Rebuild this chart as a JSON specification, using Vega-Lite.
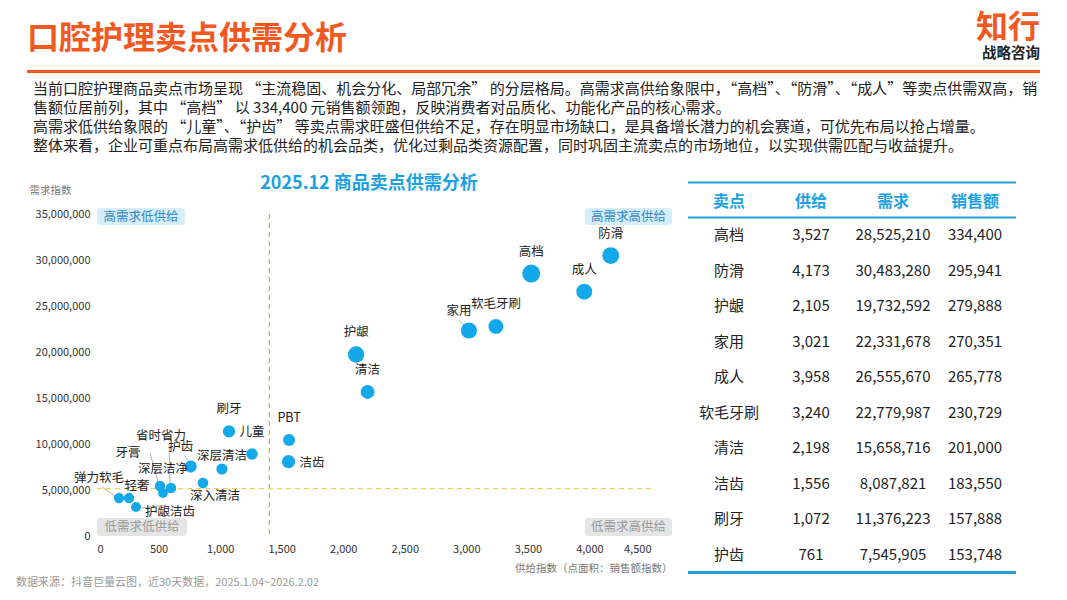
{
  "$schema": "https://vega.github.io/schema/vega-lite/v6.json",
  "background": "white",
  "padding": {"left": 16, "top": 12, "right": 0, "bottom": 0},
  "config": {"font": "Noto Sans CJK SC", "view": {"stroke": null}},
  "datasets": {
    "pts": [
      {"name": "高档", "supply": 3527, "demand": 28525210, "sales": 334400},
      {"name": "防滑", "supply": 4173, "demand": 30483280, "sales": 295941},
      {"name": "护龈", "supply": 2105, "demand": 19732592, "sales": 279888},
      {"name": "家用", "supply": 3021, "demand": 22331678, "sales": 270351},
      {"name": "成人", "supply": 3958, "demand": 26555670, "sales": 265778},
      {"name": "软毛牙刷", "supply": 3240, "demand": 22779987, "sales": 230729},
      {"name": "清洁", "supply": 2198, "demand": 15658716, "sales": 201000},
      {"name": "洁齿", "supply": 1556, "demand": 8087821, "sales": 183550},
      {"name": "刷牙", "supply": 1072, "demand": 11376223, "sales": 157888},
      {"name": "护齿", "supply": 761, "demand": 7545905, "sales": 153748},
      {"name": "PBT", "supply": 1560, "demand": 10430000, "sales": 150000},
      {"name": "儿童", "supply": 1259, "demand": 8910000, "sales": 140000},
      {"name": "深层清洁", "supply": 1015, "demand": 7280000, "sales": 130000},
      {"name": "深入清洁", "supply": 861, "demand": 5760000, "sales": 120000},
      {"name": "省时省力", "supply": 601, "demand": 5220000, "sales": 115000},
      {"name": "牙膏", "supply": 512, "demand": 5430000, "sales": 115000},
      {"name": "深层洁净", "supply": 536, "demand": 4670000, "sales": 100000},
      {"name": "弹力软毛", "supply": 179, "demand": 4130000, "sales": 110000},
      {"name": "轻奢", "supply": 260, "demand": 4130000, "sales": 110000},
      {"name": "护龈洁齿", "supply": 317, "demand": 3150000, "sales": 105000}
    ]
  },
  "title": {"text": "数据来源：抖音巨量云图，近30天数据，2025.1.04~2026.2.02", "orient": "bottom", "anchor": "start", "fontSize": 11, "fontWeight": "normal", "color": "#999999", "dx": -11, "offset": 1},
  "spacing": 5,
  "vconcat": [
    {
      "spacing": 0,
      "hconcat": [
        {
          "width": 872, "height": 3,
          "view": {"fill": "#F0591F", "stroke": null},
          "title": {"text": "口腔护理卖点供需分析", "anchor": "start", "fontSize": 32, "fontWeight": "bold", "color": "#F0591F", "offset": 10},
          "data": {"values": [{}]},
          "mark": "text",
          "encoding": {"text": {"value": ""}}
        },
        {
          "width": 141, "height": 3,
          "view": {"fill": "#F0591F", "stroke": null},
          "title": {"text": "知行", "subtitle": "战略咨询", "anchor": "end", "fontSize": 32, "fontWeight": "bold", "color": "#F0591F", "subtitleFontSize": 14.5, "subtitleFontWeight": "bold", "subtitleColor": "#222222", "subtitlePadding": 2, "offset": 4},
          "data": {"values": [{}]},
          "mark": "text",
          "encoding": {"text": {"value": ""}}
        }
      ]
    },
    {
      "title": {
        "text": [
          "当前口腔护理商品卖点市场呈现 “主流稳固、机会分化、局部冗余” 的分层格局。高需求高供给象限中，“高档”、“防滑”、“成人”等卖点供需双高，销",
          "售额位居前列，其中 “高档” 以 334,400 元销售额领跑，反映消费者对品质化、功能化产品的核心需求。",
          "高需求低供给象限的 “儿童”、“护齿” 等卖点需求旺盛但供给不足，存在明显市场缺口，是具备增长潜力的机会赛道，可优先布局以抢占增量。",
          "整体来看，企业可重点布局高需求低供给的机会品类，优化过剩品类资源配置，同时巩固主流卖点的市场地位，以实现供需匹配与收益提升。"
        ],
        "anchor": "start", "fontSize": 15, "fontWeight": "normal", "color": "#222222", "lineHeight": 19, "dx": 6, "offset": 21
      },
      "spacing": 0,
      "hconcat": [
        {
          "width": 2, "height": 1,
          "data": {"values": [{}]},
          "mark": "text",
          "encoding": {"text": {"value": ""}}
        },
        {
          "width": 554, "height": 322,
          "title": {"text": "2025.12 商品卖点供需分析", "anchor": "middle", "fontSize": 18, "fontWeight": "bold", "color": "#1BA1E2", "dx": -5, "offset": -8},
          "layer": [
            {"data": {"values": [{}]}, "mark": {"type": "rect", "color": "#D5EEFA", "cornerRadius": 3, "clip": false},
             "encoding": {"x": {"datum": 0, "type": "quantitative"}, "x2": {"datum": 715}, "y": {"datum": 35650000, "type": "quantitative"}, "y2": {"datum": 33800000}}},
            {"data": {"values": [{}]}, "mark": {"type": "rect", "color": "#D5EEFA", "cornerRadius": 3, "clip": false},
             "encoding": {"x": {"datum": 3964, "type": "quantitative"}, "x2": {"datum": 4671}, "y": {"datum": 35650000, "type": "quantitative"}, "y2": {"datum": 33800000}}},
            {"data": {"values": [{}]}, "mark": {"type": "rect", "color": "#E5E5E5", "cornerRadius": 3, "clip": false},
             "encoding": {"x": {"datum": 0, "type": "quantitative"}, "x2": {"datum": 731}, "y": {"datum": 1960000, "type": "quantitative"}, "y2": {"datum": 0}}},
            {"data": {"values": [{}]}, "mark": {"type": "rect", "color": "#E5E5E5", "cornerRadius": 3, "clip": false},
             "encoding": {"x": {"datum": 3964, "type": "quantitative"}, "x2": {"datum": 4671}, "y": {"datum": 1960000, "type": "quantitative"}, "y2": {"datum": 0}}},
            {"data": {"values": [{}]}, "mark": {"type": "text", "color": "#3486C4", "fontSize": 12.5, "baseline": "middle"},
             "encoding": {"x": {"datum": 357, "type": "quantitative"}, "y": {"datum": 34720000, "type": "quantitative"}, "text": {"value": "高需求低供给"}}},
            {"data": {"values": [{}]}, "mark": {"type": "text", "color": "#3486C4", "fontSize": 12.5, "baseline": "middle"},
             "encoding": {"x": {"datum": 4317, "type": "quantitative"}, "y": {"datum": 34720000, "type": "quantitative"}, "text": {"value": "高需求高供给"}}},
            {"data": {"values": [{}]}, "mark": {"type": "text", "color": "#9A9A9A", "fontSize": 12.5, "baseline": "middle"},
             "encoding": {"x": {"datum": 365, "type": "quantitative"}, "y": {"datum": 980000, "type": "quantitative"}, "text": {"value": "低需求低供给"}}},
            {"data": {"values": [{}]}, "mark": {"type": "text", "color": "#9A9A9A", "fontSize": 12.5, "baseline": "middle"},
             "encoding": {"x": {"datum": 4317, "type": "quantitative"}, "y": {"datum": 980000, "type": "quantitative"}, "text": {"value": "低需求高供给"}}},
            {"data": {"values": [{}]}, "mark": {"type": "rule", "color": "#A9C24F", "strokeDash": [5, 4], "strokeWidth": 1.2},
             "encoding": {"x": {"datum": 1400, "type": "quantitative"}}},
            {"data": {"values": [{}]}, "mark": {"type": "rule", "color": "#F2D15A", "strokeDash": [5, 4], "strokeWidth": 1.2},
             "encoding": {"y": {"datum": 5140000, "type": "quantitative"}}},
            {"data": {"name": "pts"}, "transform": [{"filter": {"field": "name", "equal": "家用"}}],
             "mark": {"type": "rule", "color": "#9A9A9A", "strokeWidth": 0.8, "xOffset": -10, "yOffset": -10, "x2Offset": -1, "y2Offset": -2},
             "encoding": {"x": {"field": "supply", "type": "quantitative"}, "y": {"field": "demand", "type": "quantitative"}, "x2": {"field": "supply"}, "y2": {"field": "demand"}}},
            {"data": {"name": "pts"}, "transform": [{"filter": {"field": "name", "equal": "护齿"}}],
             "mark": {"type": "rule", "color": "#9A9A9A", "strokeWidth": 0.8, "xOffset": -6, "yOffset": -11, "x2Offset": -1, "y2Offset": -4},
             "encoding": {"x": {"field": "supply", "type": "quantitative"}, "y": {"field": "demand", "type": "quantitative"}, "x2": {"field": "supply"}, "y2": {"field": "demand"}}},
            {"data": {"name": "pts"}, "transform": [{"filter": {"field": "name", "equal": "省时省力"}}],
             "mark": {"type": "rule", "color": "#9A9A9A", "strokeWidth": 0.8, "xOffset": -2, "yOffset": -44, "x2Offset": -1, "y2Offset": -5},
             "encoding": {"x": {"field": "supply", "type": "quantitative"}, "y": {"field": "demand", "type": "quantitative"}, "x2": {"field": "supply"}, "y2": {"field": "demand"}}},
            {"data": {"name": "pts"}, "transform": [{"filter": {"field": "name", "equal": "牙膏"}}],
             "mark": {"type": "rule", "color": "#9A9A9A", "strokeWidth": 0.8, "xOffset": -10, "yOffset": -33, "x2Offset": -2, "y2Offset": -4},
             "encoding": {"x": {"field": "supply", "type": "quantitative"}, "y": {"field": "demand", "type": "quantitative"}, "x2": {"field": "supply"}, "y2": {"field": "demand"}}},
            {"data": {"name": "pts"}, "transform": [{"filter": {"field": "name", "equal": "弹力软毛"}}],
             "mark": {"type": "rule", "color": "#9A9A9A", "strokeWidth": 0.8, "xOffset": -17, "yOffset": -11, "x2Offset": -4, "y2Offset": -2},
             "encoding": {"x": {"field": "supply", "type": "quantitative"}, "y": {"field": "demand", "type": "quantitative"}, "x2": {"field": "supply"}, "y2": {"field": "demand"}}},
            {"data": {"name": "pts"}, "transform": [{"filter": {"field": "name", "equal": "护龈洁齿"}}],
             "mark": {"type": "rule", "color": "#9A9A9A", "strokeWidth": 0.8, "xOffset": 6, "yOffset": 1, "x2Offset": 31, "y2Offset": -2},
             "encoding": {"x": {"field": "supply", "type": "quantitative"}, "y": {"field": "demand", "type": "quantitative"}, "x2": {"field": "supply"}, "y2": {"field": "demand"}}},
            {
              "data": {"name": "pts"},
              "mark": {"type": "circle", "color": "#13A8EA", "opacity": 1},
              "encoding": {
                "x": {"field": "supply", "type": "quantitative", "scale": {"domain": [0, 4500], "nice": false},
                  "axis": {"tickCount": 9, "format": ",.0f", "grid": false, "domain": false, "ticks": false, "labelFontSize": 11, "labelColor": "#333333", "labelPadding": 7,
                    "title": "供给指数（点面积：销售额指数）", "titleFontSize": 10.5, "titleFontWeight": "normal", "titleColor": "#777777", "titleAnchor": "end", "titleAlign": "right", "titleBaseline": "middle", "titleX": 575, "titleY": 32}},
                "y": {"field": "demand", "type": "quantitative", "scale": {"domain": [0, 35000000], "nice": false},
                  "axis": {"tickCount": 7, "format": ",.0f", "grid": false, "domain": false, "ticks": false, "labelFontSize": 11, "labelColor": "#333333", "labelPadding": 7,
                    "title": "需求指数", "titleAngle": 0, "titleFontSize": 10.5, "titleFontWeight": "normal", "titleColor": "#777777", "titleAlign": "left", "titleBaseline": "middle", "titleX": -68, "titleY": -24}},
                "size": {"field": "sales", "type": "quantitative", "scale": {"domain": [0, 334400], "range": [0, 320]}, "legend": null}
              }
            },
            {"data": {"name": "pts"}, "transform": [{"filter": {"field": "name", "oneOf": ["高档", "防滑", "成人", "软毛牙刷", "护龈", "清洁", "PBT", "刷牙", "儿童"]}}],
             "mark": {"type": "text", "fontSize": 12.5, "color": "#222222", "dy": -22, "baseline": "middle"},
             "encoding": {"x": {"field": "supply", "type": "quantitative"}, "y": {"field": "demand", "type": "quantitative"}, "text": {"field": "name"}}},
            {"data": {"name": "pts"}, "transform": [{"filter": {"field": "name", "oneOf": ["深层洁净"]}}],
             "mark": {"type": "text", "fontSize": 12.5, "color": "#222222", "dy": -24, "baseline": "middle"},
             "encoding": {"x": {"field": "supply", "type": "quantitative"}, "y": {"field": "demand", "type": "quantitative"}, "text": {"field": "name"}}},
            {"data": {"name": "pts"}, "transform": [{"filter": {"field": "name", "oneOf": ["深层清洁"]}}],
             "mark": {"type": "text", "fontSize": 12.5, "color": "#222222", "dy": -13, "baseline": "middle"},
             "encoding": {"x": {"field": "supply", "type": "quantitative"}, "y": {"field": "demand", "type": "quantitative"}, "text": {"field": "name"}}},
            {"data": {"name": "pts"}, "transform": [{"filter": {"field": "name", "oneOf": ["洁齿"]}}],
             "mark": {"type": "text", "fontSize": 12.5, "color": "#222222", "dx": 11, "dy": 1, "align": "left", "baseline": "middle"},
             "encoding": {"x": {"field": "supply", "type": "quantitative"}, "y": {"field": "demand", "type": "quantitative"}, "text": {"field": "name"}}},
            {"data": {"name": "pts"}, "transform": [{"filter": {"field": "name", "oneOf": ["家用"]}}],
             "mark": {"type": "text", "fontSize": 12.5, "color": "#222222", "dx": -10, "dy": -20, "baseline": "middle"},
             "encoding": {"x": {"field": "supply", "type": "quantitative"}, "y": {"field": "demand", "type": "quantitative"}, "text": {"field": "name"}}},
            {"data": {"name": "pts"}, "transform": [{"filter": {"field": "name", "oneOf": ["护齿"]}}],
             "mark": {"type": "text", "fontSize": 12.5, "color": "#222222", "dx": -10, "dy": -20, "baseline": "middle"},
             "encoding": {"x": {"field": "supply", "type": "quantitative"}, "y": {"field": "demand", "type": "quantitative"}, "text": {"field": "name"}}},
            {"data": {"name": "pts"}, "transform": [{"filter": {"field": "name", "oneOf": ["省时省力"]}}],
             "mark": {"type": "text", "fontSize": 12.5, "color": "#222222", "dx": -10, "dy": -52, "baseline": "middle"},
             "encoding": {"x": {"field": "supply", "type": "quantitative"}, "y": {"field": "demand", "type": "quantitative"}, "text": {"field": "name"}}},
            {"data": {"name": "pts"}, "transform": [{"filter": {"field": "name", "oneOf": ["牙膏"]}}],
             "mark": {"type": "text", "fontSize": 12.5, "color": "#222222", "dx": -32, "dy": -33, "baseline": "middle"},
             "encoding": {"x": {"field": "supply", "type": "quantitative"}, "y": {"field": "demand", "type": "quantitative"}, "text": {"field": "name"}}},
            {"data": {"name": "pts"}, "transform": [{"filter": {"field": "name", "oneOf": ["弹力软毛"]}}],
             "mark": {"type": "text", "fontSize": 12.5, "color": "#222222", "dx": -20, "dy": -20, "baseline": "middle"},
             "encoding": {"x": {"field": "supply", "type": "quantitative"}, "y": {"field": "demand", "type": "quantitative"}, "text": {"field": "name"}}},
            {"data": {"name": "pts"}, "transform": [{"filter": {"field": "name", "oneOf": ["护龈洁齿"]}}],
             "mark": {"type": "text", "fontSize": 12.5, "color": "#222222", "dx": 9, "dy": 5, "align": "left", "baseline": "middle"},
             "encoding": {"x": {"field": "supply", "type": "quantitative"}, "y": {"field": "demand", "type": "quantitative"}, "text": {"field": "name"}}},
            {"data": {"name": "pts"}, "transform": [{"filter": {"field": "name", "oneOf": ["轻奢"]}}],
             "mark": {"type": "text", "fontSize": 12.5, "color": "#222222", "dx": 8, "dy": -12, "baseline": "middle"},
             "encoding": {"x": {"field": "supply", "type": "quantitative"}, "y": {"field": "demand", "type": "quantitative"}, "text": {"field": "name"}}},
            {"data": {"name": "pts"}, "transform": [{"filter": {"field": "name", "oneOf": ["深入清洁"]}}],
             "mark": {"type": "text", "fontSize": 12.5, "color": "#222222", "dx": 12, "dy": 13, "baseline": "middle"},
             "encoding": {"x": {"field": "supply", "type": "quantitative"}, "y": {"field": "demand", "type": "quantitative"}, "text": {"field": "name"}}}
          ]
        },
        {
          "width": 328, "height": 362,
          "data": {"name": "pts"},
          "transform": [
            {"window": [{"op": "row_number", "as": "rk"}], "sort": [{"field": "sales", "order": "descending"}]},
            {"filter": "datum.rk <= 10"}
          ],
          "encoding": {
            "y": {"field": "name", "type": "nominal",
              "scale": {"type": "band", "domain": ["高档", "防滑", "护龈", "家用", "成人", "软毛牙刷", "清洁", "洁齿", "刷牙", "护齿"], "paddingInner": 0, "paddingOuter": 0.1},
              "axis": {"labels": false, "ticks": false, "domain": false, "grid": false, "title": null, "minExtent": 15, "maxExtent": 15}}
          },
          "layer": [
            {"data": {"values": [{}]}, "mark": {"type": "rule", "color": "#2A9FD6", "strokeWidth": 2, "yOffset": -35},
             "encoding": {"y": {"datum": "高档", "type": "nominal", "bandPosition": 0}}},
            {"data": {"values": [{}]}, "mark": {"type": "rule", "color": "#2A9FD6", "strokeWidth": 2},
             "encoding": {"y": {"datum": "高档", "type": "nominal", "bandPosition": 0}}},
            {"data": {"values": [{}]}, "mark": {"type": "rule", "color": "#2A9FD6", "strokeWidth": 3},
             "encoding": {"y": {"datum": "护齿", "type": "nominal", "bandPosition": 1}}},
            {"mark": {"type": "text", "fontSize": 15, "color": "#222222", "baseline": "middle"},
             "encoding": {"x": {"datum": "卖点", "type": "nominal",
                "scale": {"type": "band", "domain": ["卖点", "供给", "需求", "销售额"], "paddingInner": 0, "paddingOuter": 0},
                "axis": {"orient": "top", "domain": false, "ticks": false, "grid": false, "title": null, "labelPadding": 5, "labelFontSize": 16, "labelFontWeight": "bold", "labelColor": "#1BA1E2", "labelAngle": 0}},
               "text": {"field": "name"}}},
            {"mark": {"type": "text", "fontSize": 15, "color": "#222222", "baseline": "middle"},
             "encoding": {"x": {"datum": "供给", "type": "nominal"}, "text": {"field": "supply", "type": "quantitative", "format": ","}}},
            {"mark": {"type": "text", "fontSize": 15, "color": "#222222", "baseline": "middle"},
             "encoding": {"x": {"datum": "需求", "type": "nominal"}, "text": {"field": "demand", "type": "quantitative", "format": ","}}},
            {"mark": {"type": "text", "fontSize": 15, "color": "#222222", "baseline": "middle"},
             "encoding": {"x": {"datum": "销售额", "type": "nominal"}, "text": {"field": "sales", "type": "quantitative", "format": ","}}}
          ]
        }
      ]
    }
  ]
}
